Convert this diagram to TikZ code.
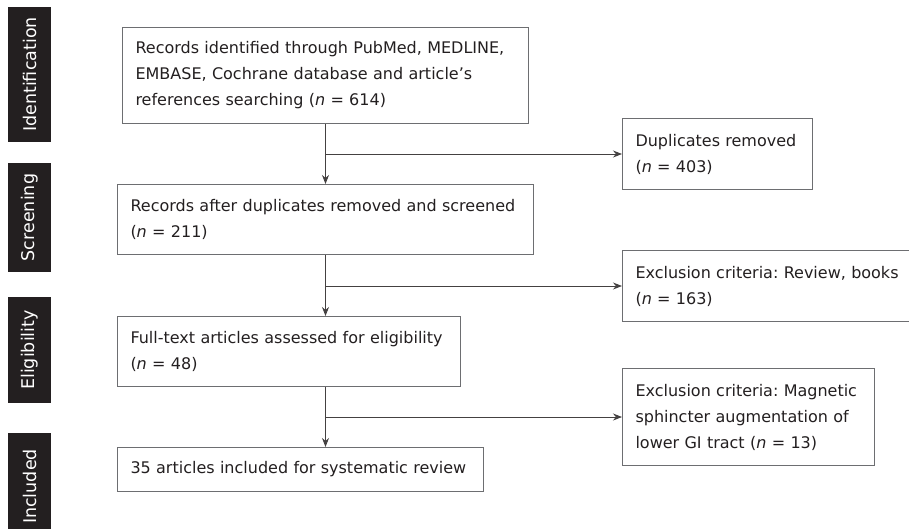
\documentclass[tikz,border=0pt]{standalone}
\usepackage{fontspec}
\setmainfont{DejaVu Sans}
\usetikzlibrary{arrows.meta}
\definecolor{ink}{HTML}{231F20}
\definecolor{frame}{HTML}{6D6E71}
\frenchspacing
\begin{document}
\begin{tikzpicture}[x=1pt, y=-1pt, every node/.style = {font=\fontsize{16}{26}\selectfont, text=ink},
          box/.style = {draw=frame, line width=1pt, anchor=north west, align=left, inner xsep=13pt, inner ysep=0pt},
          phase/.style = {fill=ink, text=white, rotate=90, minimum height=43pt, inner sep=0pt, font=\fontsize{17.5}{20}\selectfont},
          arr/.style = {draw=ink!85, line width=0.9pt, -{Stealth[length=9pt, width=7pt]}}]
          \clip (0,0) rectangle (909,528);
          \node[phase, minimum width=135pt] (idf) at (29.5,74.5) {Identification};
          \node[phase, minimum width=109pt] (scrn) at (29.5,217.5) {Screening};
          \node[phase, minimum width=106pt] (elg) at (29.5,350) {Eligibility};
          \node[phase, minimum width=107pt] (inc) at (29.5,486.5) {Included};
          \node[box, text width=380pt, minimum height=96pt] (rec) at (122,27) {Records identified through PubMed, MEDLINE,\\ EMBASE, Cochrane database and article’s\\ references searching (\textit{n} = 614)};
          \node[box, text width=390pt, minimum height=70pt] (scr) at (117,184) {Records after duplicates removed and screened\\ (\textit{n} = 211)};
          \node[box, text width=317pt, minimum height=70pt] (full) at (117,316) {Full-text articles assessed for eligibility\\ (\textit{n} = 48)};
          \node[box, text width=340pt, minimum height=44pt] (incl) at (117,447) {35 articles included for systematic review};
          \node[box, text width=164pt, minimum height=71pt] (dup) at (622,118) {Duplicates removed\\ (\textit{n} = 403)};
          \node[box, text width=300pt, minimum height=71pt] (exa) at (622,250) {Exclusion criteria: Review, books\\ (\textit{n} = 163)};
          \node[box, text width=226pt, minimum height=97pt] (exb) at (622,368) {Exclusion criteria: Magnetic\\ sphincter augmentation of\\ lower GI tract (\textit{n} = 13)};
          \draw[arr] (rec) -- (scr);
          \draw[arr] (scr.south) -- (scr.south |- full.north);
          \draw[arr] (scr.south |- full.south) -- (scr.south |- incl.north);
          \draw[arr] (rec.south |- dup.west) -- (dup.west);
          \draw[arr] (rec.south |- exa.west) -- (exa.west);
          \draw[arr] (rec.south |- exb.west) -- (exb.west);
\end{tikzpicture}
\end{document}
